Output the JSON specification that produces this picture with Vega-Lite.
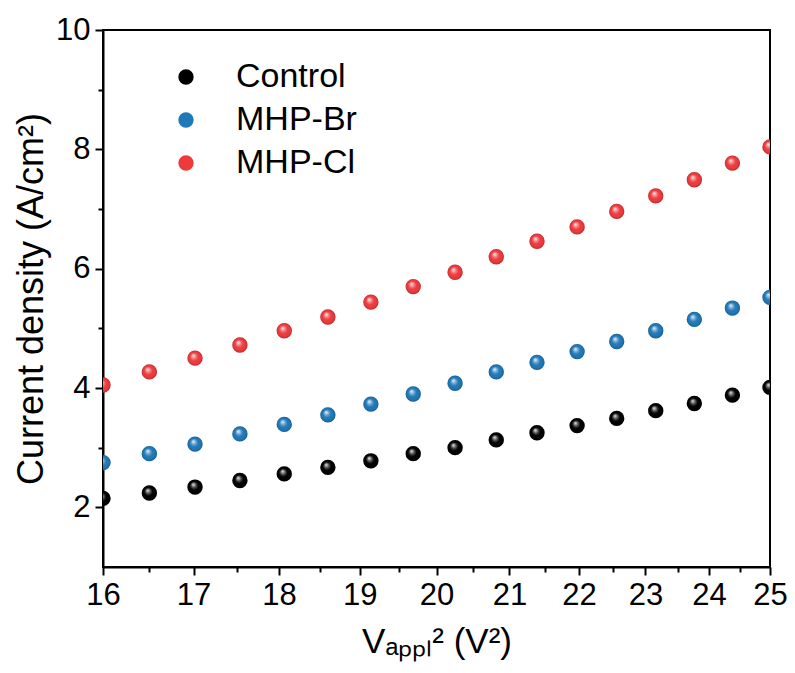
{
  "$schema": "https://vega.github.io/schema/vega-lite/v6.json",
  "width": 667,
  "height": 537,
  "autosize": {"type": "none"},
  "padding": {"left": 103, "top": 30, "right": 25, "bottom": 106},
  "background": "white",
  "config": {
    "view": {"stroke": "black", "strokeWidth": 2},
    "font": "Liberation Sans",
    "axis": {
      "grid": false,
      "domainColor": "black",
      "domainWidth": 2,
      "tickColor": "black",
      "tickWidth": 2,
      "labelColor": "black",
      "titleColor": "black",
      "labelFont": "Liberation Sans",
      "titleFont": "Liberation Sans",
      "titleFontWeight": "normal",
      "labelFlush": false
    }
  },
  "data": {
    "values": [
      {"v2": 16, "series": "Control", "j": 2.15},
      {"v2": 16.504, "series": "Control", "j": 2.24},
      {"v2": 17.016, "series": "Control", "j": 2.34},
      {"v2": 17.535, "series": "Control", "j": 2.45},
      {"v2": 18.063, "series": "Control", "j": 2.56},
      {"v2": 18.598, "series": "Control", "j": 2.67},
      {"v2": 19.141, "series": "Control", "j": 2.78},
      {"v2": 19.691, "series": "Control", "j": 2.9},
      {"v2": 20.25, "series": "Control", "j": 3.0},
      {"v2": 20.816, "series": "Control", "j": 3.13},
      {"v2": 21.391, "series": "Control", "j": 3.25},
      {"v2": 21.973, "series": "Control", "j": 3.37},
      {"v2": 22.563, "series": "Control", "j": 3.49},
      {"v2": 23.16, "series": "Control", "j": 3.62},
      {"v2": 23.766, "series": "Control", "j": 3.74},
      {"v2": 24.379, "series": "Control", "j": 3.88},
      {"v2": 25, "series": "Control", "j": 4.01},
      {"v2": 16, "series": "MHP-Br", "j": 2.75},
      {"v2": 16.504, "series": "MHP-Br", "j": 2.9},
      {"v2": 17.016, "series": "MHP-Br", "j": 3.06},
      {"v2": 17.535, "series": "MHP-Br", "j": 3.23},
      {"v2": 18.063, "series": "MHP-Br", "j": 3.39},
      {"v2": 18.598, "series": "MHP-Br", "j": 3.55},
      {"v2": 19.141, "series": "MHP-Br", "j": 3.73},
      {"v2": 19.691, "series": "MHP-Br", "j": 3.9},
      {"v2": 20.25, "series": "MHP-Br", "j": 4.08},
      {"v2": 20.816, "series": "MHP-Br", "j": 4.27},
      {"v2": 21.391, "series": "MHP-Br", "j": 4.43},
      {"v2": 21.973, "series": "MHP-Br", "j": 4.61},
      {"v2": 22.563, "series": "MHP-Br", "j": 4.78},
      {"v2": 23.16, "series": "MHP-Br", "j": 4.96},
      {"v2": 23.766, "series": "MHP-Br", "j": 5.15},
      {"v2": 24.379, "series": "MHP-Br", "j": 5.34},
      {"v2": 25, "series": "MHP-Br", "j": 5.52},
      {"v2": 16, "series": "MHP-Cl", "j": 4.05},
      {"v2": 16.504, "series": "MHP-Cl", "j": 4.27},
      {"v2": 17.016, "series": "MHP-Cl", "j": 4.5},
      {"v2": 17.535, "series": "MHP-Cl", "j": 4.72},
      {"v2": 18.063, "series": "MHP-Cl", "j": 4.96},
      {"v2": 18.598, "series": "MHP-Cl", "j": 5.19},
      {"v2": 19.141, "series": "MHP-Cl", "j": 5.44},
      {"v2": 19.691, "series": "MHP-Cl", "j": 5.7},
      {"v2": 20.25, "series": "MHP-Cl", "j": 5.94},
      {"v2": 20.816, "series": "MHP-Cl", "j": 6.2},
      {"v2": 21.391, "series": "MHP-Cl", "j": 6.46},
      {"v2": 21.973, "series": "MHP-Cl", "j": 6.7},
      {"v2": 22.563, "series": "MHP-Cl", "j": 6.96},
      {"v2": 23.16, "series": "MHP-Cl", "j": 7.22},
      {"v2": 23.766, "series": "MHP-Cl", "j": 7.49},
      {"v2": 24.379, "series": "MHP-Cl", "j": 7.77},
      {"v2": 25, "series": "MHP-Cl", "j": 8.04}
    ]
  },
  "layer": [
    {
      "mark": {"type": "point", "filled": true, "opacity": 1, "size": 235, "shape": "circle", "clip": true},
      "encoding": {
        "x": {
          "field": "v2", "type": "quantitative",
          "scale": {"type": "log", "domain": [16, 25], "nice": false},
          "axis": {
            "orient": "bottom",
            "values": [16, 17, 18, 19, 20, 21, 22, 23, 24, 25],
            "format": "d",
            "tickSize": 8,
            "labelFontSize": 31,
            "labelPadding": 5,
            "title": "Vₐₚₚₗ² (V²)",
            "titleFontSize": 35,
            "titlePadding": 14
          }
        },
        "y": {
          "field": "j", "type": "quantitative",
          "scale": {"domain": [1, 10], "nice": false, "zero": false},
          "axis": {
            "orient": "left",
            "values": [2, 4, 6, 8, 10],
            "tickSize": 8,
            "labelFontSize": 31,
            "labelPadding": 5,
            "title": "Current density (A/cm²)",
            "titleFontSize": 36,
            "titlePadding": 5
          }
        },
        "color": {
          "field": "series", "type": "nominal",
          "scale": {"domain": ["Control", "MHP-Br", "MHP-Cl"], "range": ["#000000", "#1f78b8", "#ee3a3d"]},
          "legend": {
            "title": null,
            "orient": "none",
            "legendX": 66,
            "legendY": 30,
            "labelFontSize": 34,
            "labelFont": "Liberation Sans",
            "labelColor": "black",
            "symbolSize": 235,
            "symbolType": "circle",
            "symbolStrokeWidth": 0,
            "symbolOpacity": 1,
            "rowPadding": 9,
            "labelOffset": 33,
            "padding": 0
          }
        }
      }
    },
    {
      "mark": {
        "type": "point", "filled": true, "opacity": 1, "size": 235, "shape": "circle", "clip": true,
        "fill": {
          "gradient": "radial",
          "x1": 0.38, "y1": 0.32, "r1": 0,
          "x2": 0.5, "y2": 0.5, "r2": 0.5,
          "stops": [
            {"offset": 0, "color": "rgba(255,255,255,0.95)"},
            {"offset": 0.3, "color": "rgba(255,255,255,0.35)"},
            {"offset": 0.55, "color": "rgba(255,255,255,0)"},
            {"offset": 0.85, "color": "rgba(0,0,0,0.05)"},
            {"offset": 1, "color": "rgba(0,0,0,0.25)"}
          ]
        }
      },
      "encoding": {
        "x": {
          "field": "v2", "type": "quantitative",
          "axis": {
            "orient": "bottom",
            "values": [16.5, 17.5, 18.5, 19.5, 20.5, 21.5, 22.5, 23.5, 24.5],
            "tickSize": 5,
            "labels": false,
            "domain": false,
            "title": null
          }
        },
        "y": {
          "field": "j", "type": "quantitative",
          "axis": {
            "orient": "left",
            "values": [3, 5, 7, 9],
            "tickSize": 5,
            "labels": false,
            "domain": false,
            "title": null
          }
        }
      }
    }
  ],
  "resolve": {"axis": {"x": "independent", "y": "independent"}}
}
